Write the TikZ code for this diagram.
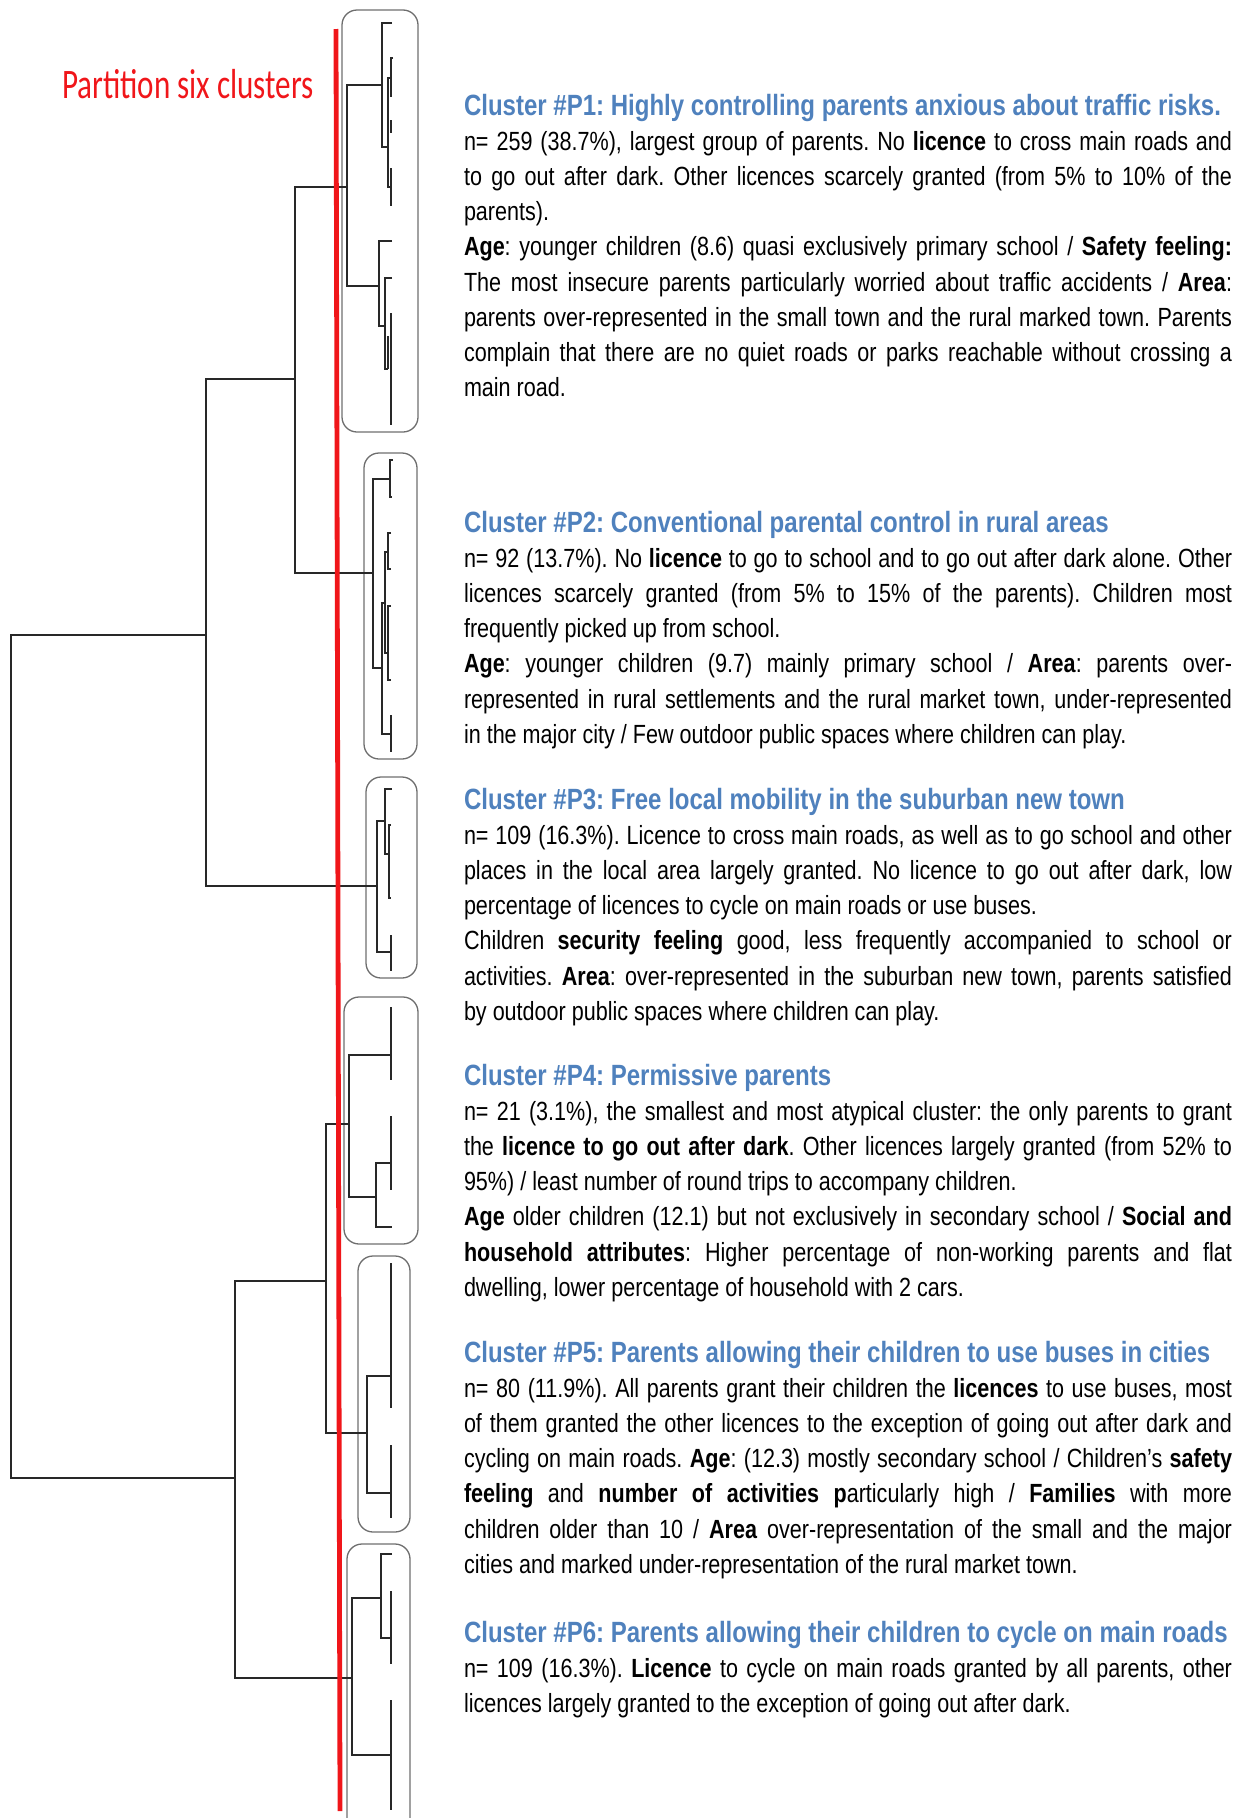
\documentclass[tikz,border=0pt]{standalone}
\usepackage{fontspec}
\usepackage{xcolor}
\newfontfamily\bodyfont{Liberation Sans}[FakeStretch=0.82]
\newfontfamily\calfont{Carlito}[FakeStretch=0.74]
\definecolor{titleblue}{RGB}{79,129,189}
\definecolor{cutred}{RGB}{240,22,26}
\definecolor{dendro}{RGB}{40,40,40}
\definecolor{boxgray}{RGB}{110,110,110}
\newdimen\colw \colw=768pt
\newcommand\cjust[1]{\leavevmode\makebox[\colw][s]{#1}\par}
\newcommand\clast[1]{\leavevmode\makebox[\colw][l]{#1}\par}
\newcommand\clusterblock[2]{\vtop{\hsize=\colw\parindent=0pt\parskip=0pt\frenchspacing
  \bodyfont\fontsize{26.3}{35.2}\selectfont
  \leavevmode{\color{titleblue}\fontsize{29.3}{35.2}\selectfont\bfseries #1}\par
  #2}}
\tikzset{
  dend/.style={draw=dendro, line width=1.8pt, line join=miter},
  leaf/.style={draw=dendro, line width=1.5pt},
  clbox/.style={draw=boxgray, line width=1.3pt, rounded corners=15pt},
  cut/.style={draw=cutred, line width=4.8pt},
  txt/.style={anchor=base west, inner sep=0pt, outer sep=0pt},
}
\begin{document}
\begin{tikzpicture}[x=1pt,y=-1pt]
\useasboundingbox (0,0) rectangle (1244,1818);

% cluster boxes
\draw[clbox] (342,10) rectangle (418,432);
\draw[clbox] (364,453) rectangle (417,759);
\draw[clbox] (366,777) rectangle (417,978);
\draw[clbox] (344,997) rectangle (418,1244);
\draw[clbox] (358,1256) rectangle (410,1532);
\draw[clbox] (347,1840) -- (347,1544) -- (410,1544) -- (410,1840);

% upper dendrogram
\draw[dend] (206,635) -- (11,635) -- (11,1478) -- (235,1478);
\draw[dend] (295,379) -- (206,379) -- (206,886) -- (377,886);
\draw[dend] (347,187) -- (295,187) -- (295,573) -- (373,573);
% P1
\draw[dend] (382,85) -- (347,85) -- (347,286) -- (379,286);
\draw[dend] (392,23) -- (382,23) -- (382,147) -- (388,147);
\draw[leaf] (393,58) -- (391,58) -- (391,97);
\draw[leaf] (391,78) -- (388,78) -- (388,187) -- (391,187);
\draw[leaf] (391,120) -- (391,133);
\draw[leaf] (391,168) -- (391,206);
\draw[dend] (392,241) -- (379,241) -- (379,326) -- (385,326);
\draw[leaf] (392,278) -- (385,278) -- (385,369) -- (388,369);
\draw[leaf] (391,313) -- (391,425);
\draw[leaf] (388,336) -- (388,369);
% P2
\draw[dend] (390,479) -- (373,479) -- (373,668) -- (382,668);
\draw[leaf] (393,460) -- (390,460) -- (390,497) -- (392,497);
\draw[leaf] (385,603) -- (382,603) -- (382,734) -- (390,734);
\draw[leaf] (388,552) -- (385,552) -- (385,653) -- (388,653);
\draw[leaf] (391,533) -- (388,533) -- (388,569) -- (391,569);
\draw[leaf] (391,606) -- (388,606) -- (388,680) -- (391,680);
\draw[leaf] (391,715) -- (391,752);
% P3
\draw[dend] (385,821) -- (377,821) -- (377,952) -- (390,952);
\draw[leaf] (392,789) -- (385,789) -- (385,854) -- (388,854);
\draw[leaf] (391,825) -- (389,825) -- (389,898) -- (391,898);
\draw[leaf] (391,935) -- (391,971);

% lower dendrogram
\draw[dend] (326,1281) -- (235,1281) -- (235,1678) -- (352,1678);
\draw[dend] (349,1124) -- (326,1124) -- (326,1433) -- (367,1433);
% P4
\draw[dend] (390,1055) -- (349,1055) -- (349,1197) -- (376,1197);
\draw[leaf] (391,1007) -- (391,1080);
\draw[dend] (390,1163) -- (376,1163) -- (376,1227) -- (392,1227);
\draw[leaf] (391,1116) -- (391,1190);
% P5
\draw[dend] (390,1376) -- (367,1376) -- (367,1493) -- (391,1493);
\draw[leaf] (391,1263) -- (391,1408);
\draw[leaf] (391,1445) -- (391,1518);
% P6
\draw[dend] (381,1598) -- (352,1598) -- (352,1755) -- (390,1755);
\draw[dend] (392,1554) -- (381,1554) -- (381,1638) -- (390,1638);
\draw[leaf] (391,1591) -- (391,1664);
\draw[leaf] (391,1700) -- (391,1810);

% partition cut
\draw[cut] (336,29) -- (340,1811);
\node[txt, text=cutred, font=\calfont\fontsize{42}{48}\selectfont] (title) at (62,98) {Partition six clusters};

% cluster descriptions
\node[txt] (c1) at (464,115) {\clusterblock{Cluster \#P1: Highly controlling parents anxious about traffic risks.}{%
\cjust{n= 259 (38.7\%), largest group of parents. No \textbf{licence} to cross main roads and}
\cjust{to go out after dark. Other licences scarcely granted (from 5\% to 10\% of the}
\clast{parents).}
\cjust{\textbf{Age}: younger children (8.6) quasi exclusively primary school / \textbf{Safety feeling:}}
\cjust{The most insecure parents particularly worried about traffic accidents / \textbf{Area}:}
\cjust{parents over-represented in the small town and the rural marked town. Parents}
\cjust{complain that there are no quiet roads or parks reachable without crossing a}
\clast{main road.}}};

\node[txt] (c2) at (464,532) {\clusterblock{Cluster \#P2: Conventional parental control in rural areas}{%
\cjust{n= 92 (13.7\%). No \textbf{licence} to go to school and to go out after dark alone. Other}
\cjust{licences scarcely granted (from 5\% to 15\% of the parents). Children most}
\clast{frequently picked up from school.}
\cjust{\textbf{Age}: younger children (9.7) mainly primary school / \textbf{Area}: parents over-}
\cjust{represented in rural settlements and the rural market town, under-represented}
\clast{in the major city / Few outdoor public spaces where children can play.}}};

\node[txt] (c3) at (464,809) {\clusterblock{Cluster \#P3: Free local mobility in the suburban new town}{%
\cjust{n= 109 (16.3\%). Licence to cross main roads, as well as to go school and other}
\cjust{places in the local area largely granted. No licence to go out after dark, low}
\clast{percentage of licences to cycle on main roads or use buses.}
\cjust{Children \textbf{security feeling} good, less frequently accompanied to school or}
\cjust{activities. \textbf{Area}: over-represented in the suburban new town, parents satisfied}
\clast{by outdoor public spaces where children can play.}}};

\node[txt] (c4) at (464,1085) {\clusterblock{Cluster \#P4: Permissive parents}{%
\cjust{n= 21 (3.1\%), the smallest and most atypical cluster: the only parents to grant}
\cjust{the \textbf{licence to go out after dark}. Other licences largely granted (from 52\% to}
\clast{95\%) / least number of round trips to accompany children.}
\cjust{\textbf{Age} older children (12.1) but not exclusively in secondary school / \textbf{Social and}}
\cjust{\textbf{household attributes}: Higher percentage of non-working parents and flat}
\clast{dwelling, lower percentage of household with 2 cars.}}};

\node[txt] (c5) at (464,1362) {\clusterblock{Cluster \#P5: Parents allowing their children to use buses in cities}{%
\cjust{n= 80 (11.9\%). All parents grant their children the \textbf{licences} to use buses, most}
\cjust{of them granted the other licences to the exception of going out after dark and}
\cjust{cycling on main roads. \textbf{Age}: (12.3) mostly secondary school / Children’s \textbf{safety}}
\cjust{\textbf{feeling} and \textbf{number of activities p}articularly high / \textbf{Families} with more}
\cjust{children older than 10 / \textbf{Area} over-representation of the small and the major}
\clast{cities and marked under-representation of the rural market town.}}};

\node[txt] (c6) at (464,1642) {\clusterblock{Cluster \#P6: Parents allowing their children to cycle on main roads}{%
\cjust{n= 109 (16.3\%). \textbf{Licence} to cycle on main roads granted by all parents, other}
\clast{licences largely granted to the exception of going out after dark.}}};
\end{tikzpicture}
\end{document}
